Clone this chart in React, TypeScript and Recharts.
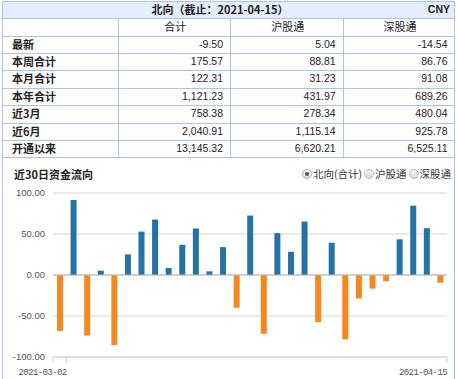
import React from 'react';
import { BarChart, Bar, XAxis, YAxis, CartesianGrid, ReferenceLine, Cell } from 'recharts';

// table data
const columns = ['合计', '沪股通', '深股通'];
const rowLabels = ['最新', '本周合计', '本月合计', '本年合计', '近3月', '近6月', '开通以来'];
const totalCol = ['-9.50', '175.57', '122.31', '1,121.23', '758.38', '2,040.91', '13,145.32'];
const shCol = ['5.04', '88.81', '31.23', '431.97', '278.34', '1,115.14', '6,620.21'];
const szCol = ['-14.54', '86.76', '91.08', '689.26', '480.04', '925.78', '6,525.11'];

// chart data
const dates = [
  '2021-03-02', '2021-03-03', '2021-03-04', '2021-03-05', '2021-03-08', '2021-03-09', '2021-03-10',
  '2021-03-11', '2021-03-12', '2021-03-15', '2021-03-16', '2021-03-17', '2021-03-18', '2021-03-19',
  '2021-03-22', '2021-03-23', '2021-03-24', '2021-03-25', '2021-03-26', '2021-03-29', '2021-03-30',
  '2021-03-31', '2021-04-07', '2021-04-08', '2021-04-09', '2021-04-12', '2021-04-13', '2021-04-14',
  '2021-04-15'
];
const flows = [
  -68.2, 91.5, -73.7, 5.3, -85.4, 25.1, 53.0, 67.6, 8.5, 36.8, 56.7, 4.5, 34.0, -40.0,
  72.5, -71.7, 51.0, 28.3, 65.2, -57.5, 39.3, -78.5, -28.6, -16.6, -7.6, 43.5, 84.5, 57.1, -9.5
];
const yTicks = [-100, -50, 0, 50, 100];
const xTicks = [dates[0], dates[dates.length - 1]];
const radios = ['北向(合计)', '沪股通', '深股通'];

const data = dates.map((d, i) => ({ date: d, value: flows[i] }));

const BLUE = '#2473a6';
const ORANGE = '#f7871c';
const BORDER = '#aac4ee';
const CJK = '"Noto Sans CJK SC", "Liberation Sans", sans-serif';
const NUM = '"Liberation Sans", Arial, sans-serif';

const ROW_H = 17.4;
const colX = [2, 117.7, 230, 342.7, 454.5];

const XTick = (props: any) => {
  const { x, y, payload, index } = props;
  const half = 394 / dates.length / 2;
  const first = index === 0;
  return (
    <g>
      {first && <line x1={x - half} x2={x - half} y1={y} y2={y + 5} stroke="#c6d3e3" />}
      <line x1={x + half} x2={x + half} y1={y} y2={y + 6} stroke="#c6d3e3" />
      <text
        x={x + half}
        y={y}
        dy={17.5}
        textAnchor="end"
        fill="#555"
        letterSpacing={-0.6}
        style={{ fontFamily: '"Liberation Mono", "DejaVu Sans Mono", monospace', fontSize: 9 }}
      >
        {payload.value}
      </text>
    </g>
  );
};

const Radio = ({ on }: { on: boolean }) => (
  <span
    style={{
      display: 'inline-block',
      width: 8,
      height: 8,
      borderRadius: '50%',
      border: '1px solid #b8b8b8',
      background: 'linear-gradient(#f4f4f4, #d8d8d8)',
      position: 'relative',
      marginRight: 1,
      verticalAlign: -1,
    }}
  >
    {on && (
      <span
        style={{
          position: 'absolute',
          left: 2,
          top: 2,
          width: 4,
          height: 4,
          borderRadius: '50%',
          background: '#555',
        }}
      />
    )}
  </span>
);

const Cell2 = ({ left, right, top, children, align, bold, font }: any) => (
  <div
    style={{
      position: 'absolute',
      left,
      width: right - left,
      top,
      height: ROW_H,
      lineHeight: `${ROW_H}px`,
      boxSizing: 'border-box',
      textAlign: align,
      padding: '0 7px 0 10px',
      fontFamily: font,
      fontWeight: bold ? 'bold' : 'normal',
      fontSize: font === NUM ? 10.5 : 11,
      color: '#222',
      whiteSpace: 'nowrap',
    }}
  >
    {children}
  </div>
);

export default function App() {
  const tableTop = 0.8;
  const tableRows = rowLabels.length + 2;
  const hLines = Array.from({ length: tableRows + 1 }, (_, i) => tableTop + i * ROW_H);
  const tableBottom = hLines[hLines.length - 1];

  return (
    <div style={{ position: 'fixed', left: 0, top: 0, width: 457, height: 379, overflow: 'hidden', background: '#fff' }}>
      {/* header background */}
      <div style={{ position: 'absolute', left: colX[0], top: tableTop, width: colX[4] - colX[0], height: ROW_H, background: '#e4edfb' }} />
      {/* horizontal lines */}
      {hLines.map((y, i) => (
        <div key={'h' + i} style={{ position: 'absolute', left: colX[0], top: y, width: colX[4] - colX[0], height: 1, background: BORDER }} />
      ))}
      {/* vertical lines of table */}
      {colX.slice(1, 4).map((x, i) => (
        <div key={'v' + i} style={{ position: 'absolute', left: x, top: hLines[1], width: 1, height: tableBottom - hLines[1], background: BORDER }} />
      ))}
      {/* outer borders */}
      <div style={{ position: 'absolute', left: colX[0], top: tableTop, width: 1, height: 400, background: BORDER }} />
      <div style={{ position: 'absolute', left: colX[4] - 1, top: tableTop, width: 1, height: 400, background: BORDER }} />

      {/* title row */}
      <div style={{ position: 'absolute', left: 60, width: 320, top: tableTop, height: ROW_H, lineHeight: `${ROW_H}px`, textAlign: 'center', fontFamily: CJK, fontWeight: 'bold', fontSize: 11, color: '#222' }}>
        北向（截止：2021-04-15）
      </div>
      <div style={{ position: 'absolute', right: 7, top: tableTop, height: ROW_H, lineHeight: `${ROW_H}px`, fontFamily: NUM, fontWeight: 'bold', fontSize: 10.5, color: '#222' }}>
        CNY
      </div>

      {/* column headers */}
      {columns.map((c, i) => (
        <Cell2 key={c} left={colX[i + 1]} right={colX[i + 2]} top={hLines[1]} align="center" font={CJK}>
          {c}
        </Cell2>
      ))}

      {/* data rows */}
      {rowLabels.map((r, i) => (
        <React.Fragment key={r}>
          <Cell2 left={colX[0]} right={colX[1]} top={hLines[i + 2]} align="left" bold font={CJK}>{r}</Cell2>
          <Cell2 left={colX[1]} right={colX[2]} top={hLines[i + 2]} align="right" font={NUM}>{totalCol[i]}</Cell2>
          <Cell2 left={colX[2]} right={colX[3]} top={hLines[i + 2]} align="right" font={NUM}>{shCol[i]}</Cell2>
          <Cell2 left={colX[3]} right={colX[4]} top={hLines[i + 2]} align="right" font={NUM}>{szCol[i]}</Cell2>
        </React.Fragment>
      ))}

      {/* chart title + radios */}
      <div style={{ position: 'absolute', left: 14, top: 166, fontFamily: CJK, fontWeight: 'bold', fontSize: 11, color: '#222', lineHeight: '16px' }}>
        近30日资金流向
      </div>
      <div style={{ position: 'absolute', left: 302, top: 166, fontFamily: CJK, fontSize: 10.5, color: '#333', lineHeight: '16px', whiteSpace: 'nowrap' }}>
        {radios.map((r, i) => (
          <span key={r} style={{ marginRight: i < radios.length - 1 ? 2 : 0 }}>
            <Radio on={i === 0} />
            {r}
          </span>
        ))}
      </div>

      <div style={{ position: 'absolute', left: 0, top: 180 }}>
        <BarChart width={457} height={199} data={data} margin={{ top: 13, right: 10, left: 0, bottom: 2 }} barCategoryGap={0}>
          <CartesianGrid horizontal vertical={false} stroke="#d4d4d4" />
          <XAxis
            dataKey="date"
            ticks={xTicks}
            interval={0}
            height={20}
            tickSize={0}
            tickMargin={0}
            tickLine={false}
            axisLine={{ stroke: '#c6d3e3' }}
            tick={<XTick />}
          />
          <YAxis
            width={53}
            domain={[-100, 100]}
            ticks={yTicks}
            axisLine={false}
            tickLine={false}
            tickSize={0}
            tickMargin={8}
            tickFormatter={(v: number) => v.toFixed(2)}
            tick={{ fontSize: 9.5, fill: '#555', fontFamily: NUM }}
          />
          <ReferenceLine y={0} stroke="#b8b8b8" />
          <Bar dataKey="value" barSize={6} isAnimationActive={false}>
            {data.map((d, i) => (
              <Cell key={i} fill={d.value >= 0 ? BLUE : ORANGE} />
            ))}
          </Bar>
        </BarChart>
      </div>
    </div>
  );
}
